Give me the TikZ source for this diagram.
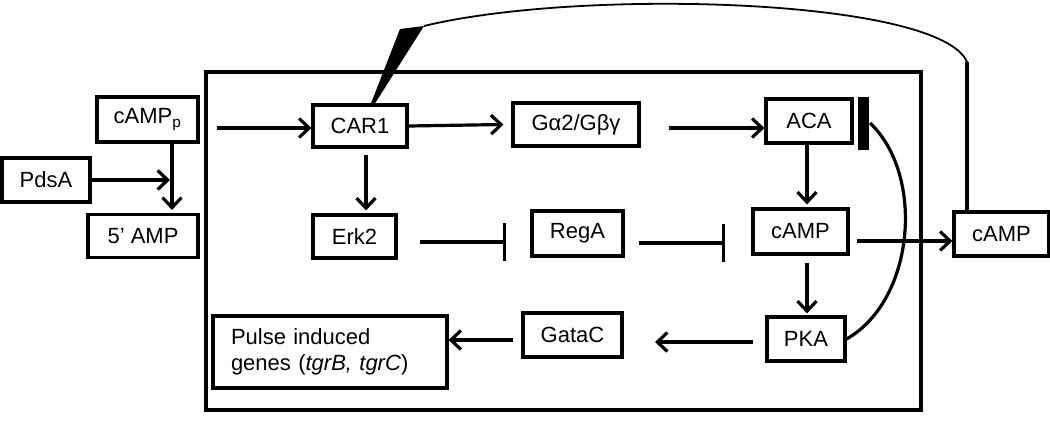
\documentclass[tikz,border=0pt]{standalone}
\usepackage{fontspec}
\setmainfont{Liberation Sans}
\usetikzlibrary{arrows.meta,calc}
\begin{document}
\begin{tikzpicture}[x=1pt,y=-1pt,
  every node/.style={font=\fontsize{22}{26}\selectfont},
  box/.style={draw,line width=3.2pt,inner sep=0pt,align=center},
  arr/.style={line width=3.2pt,-{Straight Barb[length=10pt,width=19pt,line width=3.2pt]}},
  inh/.style={line width=3.2pt,-{Bar[width=38pt,line width=3.2pt]}},
  thin/.style={line width=1.8pt}]
\useasboundingbox (0,0) rectangle (1050,423);
% outer cell box
\draw[line width=3.2pt] (206,72) rectangle (921,410);
% nodes
\node[box,minimum width=101pt,minimum height=45pt] (campp) at (147.5,119.5) {cAMP\textsubscript{p}};
\node[box,minimum width=88pt,minimum height=44pt] (pdsa) at (46,180) {PdsA};
\node[box,minimum width=110pt,minimum height=43pt] (amp5) at (143,236) {5’ AMP};
\node[box,minimum width=94pt,minimum height=42pt] (car1) at (360,126) {CAR1};
\node[box,minimum width=126pt,minimum height=43pt] (gprot) at (576,124.5) {Gα2/Gβγ};
\node[box,minimum width=86pt,minimum height=44pt] (aca) at (809,121) {ACA};
\node[box,minimum width=83pt,minimum height=43pt] (erk2) at (354.5,236.5) {Erk2};
\node[box,minimum width=91pt,minimum height=45pt] (rega) at (577.5,233.5) {RegA};
\node[box,minimum width=95pt,minimum height=45pt] (campin) at (800.5,231.5) {cAMP};
\node[box,minimum width=95pt,minimum height=44pt] (campout) at (1001.5,234) {cAMP};
\node[box,minimum width=78pt,minimum height=44pt] (pka) at (806,339) {PKA};
\node[box,minimum width=99pt,minimum height=44pt] (gatac) at (572.5,335) {GataC};
\node[box,minimum width=234pt,minimum height=72pt,align=left,text width=198pt] (pulse) at (330,352) {Pulse induced\\genes (\textit{tgrB, tgrC})};
% bar by ACA
\fill (858,97) rectangle (869,150);
\coordinate (barpt) at (870,123);
% coordinates
\coordinate (j) at (170,180);
\coordinate (v1) at (172,0);
\coordinate (in1) at (217,128);
\coordinate (g1) at (669,128);
\coordinate (d1) at (366,0);
\coordinate (d2) at (807,0);
\coordinate (e1) at (420,242);
\coordinate (e2) at (506,242);
\coordinate (r1) at (639,243);
\coordinate (r2) at (725,243);
\coordinate (c1) at (857,241);
\coordinate (k1) at (753,342);
\coordinate (k2) at (655,342);
\coordinate (ga1) at (513,340);
\coordinate (up) at (967,62);
\coordinate (w1) at (424,26);
\coordinate (w2) at (400,29);
% connectors
\draw[arr] (campp.south -| v1) -- ([yshift=3pt]amp5.north -| v1);
\draw[arr] (pdsa.east) -- (j);
\draw[arr] (in1) -- (car1.west |- in1);
\draw[arr] (car1.east) -- ([xshift=-8pt]gprot.west);
\draw[arr] (g1) -- (aca.west |- g1);
\draw[arr] ([yshift=-6pt]car1.south -| d1) -- ([yshift=3pt]erk2.north -| d1);
\draw[inh] (e1) -- (e2);
\draw[inh] (r1) -- (r2);
\draw[arr] (aca.south -| d2) -- ([yshift=3pt]campin.north -| d2);
\draw[arr] (c1) -- (campout.west |- c1);
\draw[arr] ([yshift=-7pt]campin.south -| d2) -- ([yshift=2pt]pka.north -| d2);
\draw[arr] (k1) -- (k2);
\draw[arr] (ga1) -- (pulse.east |- ga1);
\draw[line width=3.2pt] (barpt) .. controls (925,175) and (915,300) .. (pka.east);
% feedback from extracellular cAMP to CAR1
\draw[line width=3.2pt] (campout.north -| up) -- (up);
\draw[thin] (up) .. controls (940,-2) and (580,-12) .. (w1);
\fill (w2) -- (w1) -- ([xshift=15pt]car1.north) -- ([xshift=11pt]car1.north) -- cycle;
\end{tikzpicture}
\end{document}
